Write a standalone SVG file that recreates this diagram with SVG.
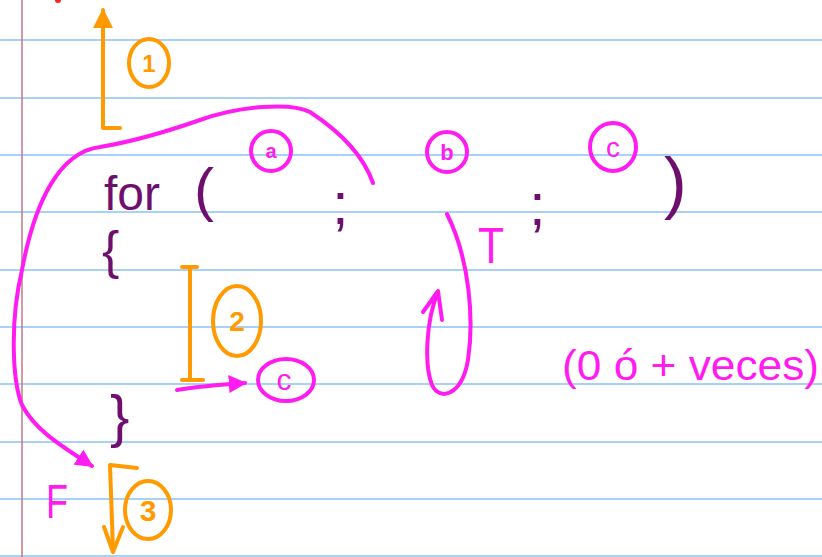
<svg xmlns="http://www.w3.org/2000/svg" width="822" height="557" viewBox="0 0 822 557">
<defs>
<style>
.rule{stroke:#a9d1f7;stroke-width:2}
.or{fill:none;stroke:#ff9a00;stroke-width:4;stroke-linecap:round;stroke-linejoin:round}
.mg{fill:none;stroke:#ff1cf0;stroke-width:4;stroke-linecap:round;stroke-linejoin:round}
.pu{fill:#6e0f6e;font-family:"Liberation Sans",Arial,sans-serif}
.mt{fill:#ff1cf0;font-family:"Liberation Sans",Arial,sans-serif}
.ot{fill:#ff9a00;font-family:"Liberation Sans",Arial,sans-serif;font-weight:bold}
</style>
<marker id="mh" viewBox="0 0 10 10" refX="9" refY="5" markerWidth="4.5" markerHeight="4.5" orient="auto" markerUnits="strokeWidth">
<path d="M0,0 L10,5 L0,10 Z" fill="#ff1cf0"/>
</marker>
<marker id="oh" viewBox="0 0 10 10" refX="9" refY="5" markerWidth="5.5" markerHeight="5" orient="auto" markerUnits="strokeWidth">
<path d="M0,0 L10,5 L0,10 Z" fill="#ff9a00"/>
</marker>
</defs>
<rect width="822" height="557" fill="#ffffff"/>
<g id="paper">
<line class="rule" x1="0" y1="40" x2="822" y2="40"/>
<line class="rule" x1="0" y1="98" x2="822" y2="98"/>
<line class="rule" x1="0" y1="155" x2="822" y2="155"/>
<line class="rule" x1="0" y1="212" x2="822" y2="212"/>
<line class="rule" x1="0" y1="270" x2="822" y2="270"/>
<line class="rule" x1="0" y1="327" x2="822" y2="327"/>
<line class="rule" x1="0" y1="384" x2="822" y2="384"/>
<line class="rule" x1="0" y1="442" x2="822" y2="442"/>
<line class="rule" x1="0" y1="499" x2="822" y2="499"/>
<line class="rule" x1="0" y1="556" x2="822" y2="556"/>
<line x1="22" y1="0" x2="22" y2="557" stroke="#c07888" stroke-width="1.5"/>
<circle cx="58" cy="0" r="3" fill="#ff2020"/>
</g>
<g id="code">
<text class="pu" x="104" y="210" font-size="48">for</text>
<text class="pu" x="194" y="210" font-size="60">(</text>
<text class="pu" x="332" y="224" font-size="60">;</text>
<text class="pu" x="529" y="225" font-size="60">;</text>
<text class="pu" x="664" y="206" font-size="68">)</text>
<text class="pu" x="102" y="268" font-size="52">{</text>
<text class="pu" x="110" y="436" font-size="58">}</text>
</g>
<g id="step1">
<polyline class="or" points="120,128 103,128 103,10" marker-end="url(#oh)"/>
<ellipse class="or" cx="149" cy="63" rx="20" ry="24"/>
<text class="ot" x="149" y="72" font-size="24" text-anchor="middle">1</text>
</g>
<g id="step2">
<line class="or" x1="190" y1="267" x2="190" y2="380"/>
<line class="or" x1="182" y1="267" x2="197" y2="267"/>
<line class="or" x1="182" y1="380" x2="203" y2="380"/>
<ellipse class="or" cx="237" cy="321" rx="24" ry="35"/>
<text class="ot" x="237" y="331" font-size="28" text-anchor="middle">2</text>
</g>
<g id="step3">
<polyline class="or" points="137,468 110,465 113,550"/>
<polyline class="or" points="104,527 113,552 123,527"/>
<ellipse class="or" cx="148" cy="510" rx="23" ry="29"/>
<text class="ot" x="148" y="521" font-size="30" text-anchor="middle">3</text>
</g>
<g id="label-a">
<circle class="mg" cx="271" cy="151" r="20"/>
<text class="mt" x="271" y="158" font-size="20" font-weight="bold" text-anchor="middle">a</text>
</g>
<g id="label-b">
<circle class="mg" cx="447" cy="152" r="20"/>
<text class="mt" x="447" y="160" font-size="22" font-weight="bold" text-anchor="middle">b</text>
</g>
<g id="label-c">
<ellipse class="mg" cx="613" cy="147" rx="23" ry="24"/>
<text class="mt" x="613" y="157" font-size="28" text-anchor="middle">c</text>
</g>
<g id="label-c2">
<ellipse class="mg" cx="286" cy="380" rx="28" ry="21"/>
<text class="mt" x="284" y="390" font-size="30" text-anchor="middle">c</text>
</g>
<g id="labels">
<text class="mt" x="478" y="263" font-size="50" textLength="26" lengthAdjust="spacingAndGlyphs">T</text>
<text class="mt" x="46" y="518" font-size="48" textLength="22" lengthAdjust="spacingAndGlyphs">F</text>
<text class="mt" x="562" y="380" font-size="42" textLength="257" lengthAdjust="spacingAndGlyphs">(0 ó + veces)</text>
</g>
<g id="connectors">
<path class="mg" d="M373,183 C365,160 345,135 310,112 C290,102 240,106 200,120 C160,134 130,142 100,147 C60,152 35,200 22,270 C10,320 12,380 22,405 C35,430 60,445 92,466" marker-end="url(#mh)"/>
<path class="mg" d="M447,214 C470,260 474,320 468,360 C462,395 440,402 432,385 C424,365 426,320 438,292"/>
<polyline class="mg" points="423,312 438,291 442,320"/>
<path class="mg" d="M177,390 C195,387 215,385 245,383" marker-end="url(#mh)"/>
</g>
</svg>
